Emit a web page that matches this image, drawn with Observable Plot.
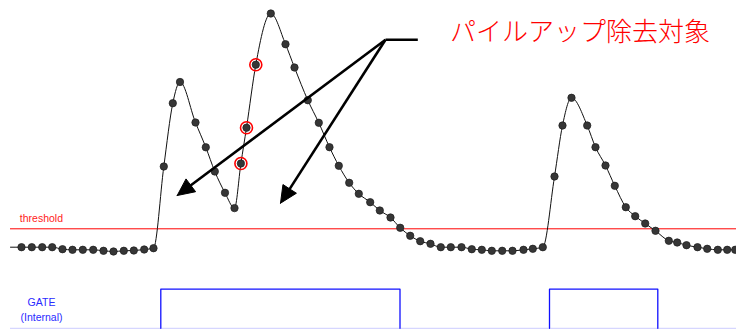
<!DOCTYPE html>
<html>
<head>
<meta charset="utf-8">
<script src="https://cdn.jsdelivr.net/npm/d3@7"></script>
<script src="https://cdn.jsdelivr.net/npm/@observablehq/plot@0.6"></script>
<style>
  html, body { margin: 0; padding: 0; background: #fff; }
  svg { display: block; }
</style>
</head>
<body>
<script>
// Sample times (horizontal position) and signal amplitudes
const sampleTimes = [21, 31.3, 41.7, 51.7, 62, 72, 82.3, 92.7, 103, 113, 123.3, 133.3, 143.7, 153,
  163.3, 172.3, 179.5, 195, 205.3, 214.3, 224.5, 234, 240.4, 246, 255.3, 270.3, 285, 294, 307.3,
  318.3, 329, 338.3, 348.7, 358.3, 369.7, 379.3, 390, 399.7, 409.7, 419.7, 430, 440.3, 450.3, 461,
  471.3, 481.3, 491.3, 501.7, 512, 523, 532.3, 542.3, 554, 562, 571, 586.7, 595, 605, 614.3, 625.3,
  634.7, 644.7, 655, 668.3, 676.7, 686, 697, 706.7, 717.3, 726.7, 734.7];
const sampleValues = [3.3, 3.3, 3.3, 3.3, 1.3, 0.7, 0.7, 0.7, -0.3, -1, -0.3, 0, 1, 2.3,
  84, 147.3, 168.5, 128, 103.2, 79, 57.7, 42.4, 87, 122.8, 185.8, 237, 206.3, 183, 150.3,
  127.7, 103.3, 84.7, 67.7, 56.7, 48.3, 40, 33, 22.7, 14.7, 9.3, 6.7, 3.3, 3.3, 3.3,
  1.3, 0.7, -0.3, -0.3, -0.3, 0.7, 1.7, 3.3, 74, 125, 152.7, 125, 103.3, 85, 64.7, 43.3,
  34.3, 27, 19.7, 9.7, 8, 5.3, 3.3, 1.7, 0.7, 0.7, 0.7];
// Trace extends slightly beyond the first / last samples
const traceStart = [10, 3.3];
const traceEnd = [745, 0.7];
// Indices of the pile-up samples (circled in red)
const pileupIdx = [22, 23, 24];

const thresholdLevel = 21.7;
const thresholdSpan = [10, 736];

// GATE (internal) signal
const gateLow = -77.8;
const gateHigh = -38.7;
const gateSpan = [10, 736];
const gateRise = [160.3, 549];
const gateFall = [399.5, 657.3];

// Callout annotation
const calloutLabel = "パイルアップ除去対象";
const calloutLabelAt = [449.4, 210];
const calloutElbow = [385, 210.7];
const calloutTail = [417.3, 210.7];
const arrowTips = [[176.7, 55], [280, 47.3]];

const thresholdLabel = "threshold";
const thresholdLabelAt = [19.3, 28.3];
const gateLabels = ["GATE", "(Internal)"];
const gateLabelX = 41;
const gateLabelY = [-55.7, -70];

// ---- build tables ----
const samples = sampleTimes.map((t, i) => ({t, v: sampleValues[i]}));
const trace = [{t: traceStart[0], v: traceStart[1]}, ...samples, {t: traceEnd[0], v: traceEnd[1]}];
const pileups = pileupIdx.map(i => samples[i]);

const gatePulses = gateRise.flatMap((r, i) => [
  {p: i, t: r, v: gateLow}, {p: i, t: r, v: gateHigh},
  {p: i, t: gateFall[i], v: gateHigh}, {p: i, t: gateFall[i], v: gateLow}
]);

// arrow shafts end at arrowhead base; heads are filled triangles
const headLen = 17, headHalf = 8;
const shafts = [], heads = [];
arrowTips.forEach(([tx, ty], k) => {
  const dx = tx - calloutElbow[0], dy = ty - calloutElbow[1];
  const len = Math.hypot(dx, dy), ux = dx / len, uy = dy / len;
  const bx = tx - ux * headLen, by = ty - uy * headLen;
  shafts.push({x1: calloutElbow[0], y1: calloutElbow[1], x2: bx + ux * 2, y2: by + uy * 2});
  heads.push({k, x: tx, y: ty}, {k, x: bx - uy * headHalf, y: by + ux * headHalf},
             {k, x: bx + uy * headHalf, y: by - ux * headHalf}, {k, x: tx, y: ty});
});
shafts.push({x1: calloutElbow[0], y1: calloutElbow[1], x2: calloutTail[0], y2: calloutTail[1]});

const chart = Plot.plot({
  width: 736,
  height: 329,
  margin: 0,
  x: {domain: [0, 736], range: [0, 736], axis: null},
  y: {domain: [-79, 250], range: [329, 0], axis: null},
  marks: [
    // threshold
    Plot.ruleY([thresholdLevel], {x1: thresholdSpan[0], x2: thresholdSpan[1], stroke: "#ff0000", strokeWidth: 1}),
    Plot.text([thresholdLabel], {x: thresholdLabelAt[0], y: thresholdLabelAt[1], text: d => d, textAnchor: "start",
      lineAnchor: "bottom", fill: "#ff1a1a", fontSize: 10.5, fontFamily: "Liberation Sans, Arial, sans-serif"}),
    // gate
    Plot.ruleY([gateLow], {x1: gateSpan[0], x2: gateSpan[1], stroke: "#d6d6ff", strokeWidth: 1.2}),
    Plot.line(gatePulses, {x: "t", y: "v", z: "p", stroke: "#1010ff", strokeWidth: 1.3}),
    Plot.text(gateLabels, {x: gateLabelX, y: (d, i) => gateLabelY[i], text: d => d, textAnchor: "middle",
      lineAnchor: "bottom", fill: "#2a2aff", fontSize: 10.5, fontFamily: "Liberation Sans, Arial, sans-serif"}),
    // signal trace
    Plot.line(trace, {x: "t", y: "v", curve: "monotone-x", stroke: "#111", strokeWidth: 1}),
    Plot.dot(pileups, {x: "t", y: "v", r: 6, stroke: "#ff0000", strokeWidth: 1.6, fill: "none"}),
    Plot.dot(samples, {x: "t", y: "v", r: 3.7, fill: "#363636", stroke: "#1c1c1c", strokeWidth: 0.7}),
    // callout
    Plot.link(shafts, {x1: "x1", y1: "y1", x2: "x2", y2: "y2", stroke: "#000", strokeWidth: 2.6}),
    Plot.line(heads, {x: "x", y: "y", z: "k", fill: "#000", stroke: "#000", strokeWidth: 1, strokeLinejoin: "miter"}),
    Plot.text([calloutLabel], {x: calloutLabelAt[0], y: calloutLabelAt[1], text: d => d, textAnchor: "start",
      lineAnchor: "bottom", fill: "#ff0000", fontSize: 26, fontWeight: 300, fontFamily: "Noto Sans CJK JP, sans-serif"})
  ]
});
document.body.appendChild(chart);
</script>
</body>
</html>
